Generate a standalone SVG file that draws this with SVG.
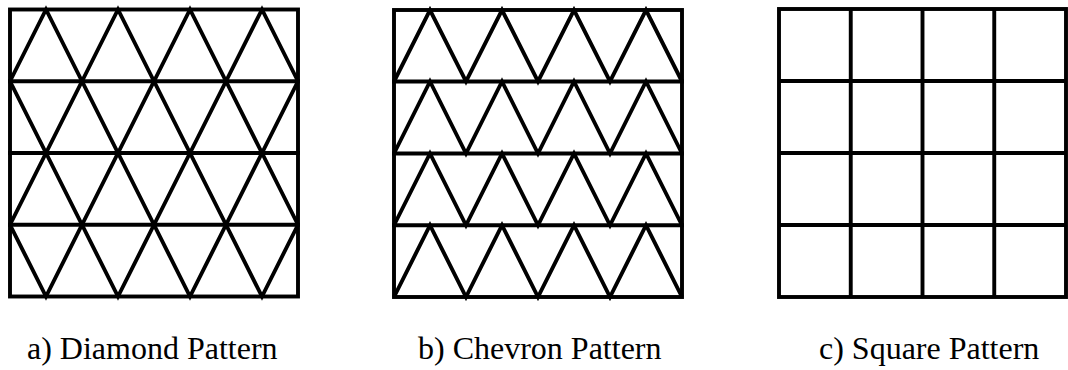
<svg xmlns="http://www.w3.org/2000/svg" width="1068" height="370" viewBox="0 0 1068 370">
<style>
.frame{fill:none;stroke:#000;stroke-width:3.9;stroke-linejoin:miter}
.ln{fill:none;stroke:#000;stroke-width:3.9;stroke-linejoin:miter;stroke-miterlimit:10}
.lbl{font-size:32px;fill:#000}
</style>
<rect width="1068" height="370" fill="#fff"/>
<g id="diamond">
<rect class="frame" x="10" y="9.5" width="288" height="287"/>
<line class="ln" x1="8" y1="81.25" x2="300" y2="81.25"/>
<line class="ln" x1="8" y1="153" x2="300" y2="153"/>
<line class="ln" x1="8" y1="224.75" x2="300" y2="224.75"/>
<polyline class="ln" points="10,81.25 46,9.5 82,81.25 118,9.5 154,81.25 190,9.5 226,81.25 262,9.5 298,81.25"/>
<polyline class="ln" points="10,81.25 46,153 82,81.25 118,153 154,81.25 190,153 226,81.25 262,153 298,81.25"/>
<polyline class="ln" points="10,224.75 46,153 82,224.75 118,153 154,224.75 190,153 226,224.75 262,153 298,224.75"/>
<polyline class="ln" points="10,224.75 46,296.5 82,224.75 118,296.5 154,224.75 190,296.5 226,224.75 262,296.5 298,224.75"/>
<text class="lbl" font-family="Liberation Serif, DejaVu Serif, serif" x="27" y="359">a) Diamond Pattern</text>
</g>
<g id="chevron">
<rect class="frame" x="394" y="10" width="288" height="287"/>
<line class="ln" x1="392" y1="81.5" x2="684" y2="81.5"/>
<line class="ln" x1="392" y1="153.5" x2="684" y2="153.5"/>
<line class="ln" x1="392" y1="225.25" x2="684" y2="225.25"/>
<polyline class="ln" points="394,81.5 430,10 466,81.5 502,10 538,81.5 574,10 610,81.5 646,10 682,81.5"/>
<polyline class="ln" points="394,153.5 430,81.5 466,153.5 502,81.5 538,153.5 574,81.5 610,153.5 646,81.5 682,153.5"/>
<polyline class="ln" points="394,225.25 430,153.5 466,225.25 502,153.5 538,225.25 574,153.5 610,225.25 646,153.5 682,225.25"/>
<polyline class="ln" points="394,297 430,225.25 466,297 502,225.25 538,297 574,225.25 610,297 646,225.25 682,297"/>
<text class="lbl" font-family="Liberation Serif, DejaVu Serif, serif" x="418" y="359">b) Chevron Pattern</text>
</g>
<g id="square">
<rect class="frame" x="779" y="9" width="287" height="288"/>
<line class="ln" x1="850.75" y1="9" x2="850.75" y2="297"/>
<line class="ln" x1="922.5" y1="9" x2="922.5" y2="297"/>
<line class="ln" x1="994.25" y1="9" x2="994.25" y2="297"/>
<line class="ln" x1="779" y1="81" x2="1066" y2="81"/>
<line class="ln" x1="779" y1="153" x2="1066" y2="153"/>
<line class="ln" x1="779" y1="225" x2="1066" y2="225"/>
<text class="lbl" font-family="Liberation Serif, DejaVu Serif, serif" x="819" y="359">c) Square Pattern</text>
</g>
</svg>
